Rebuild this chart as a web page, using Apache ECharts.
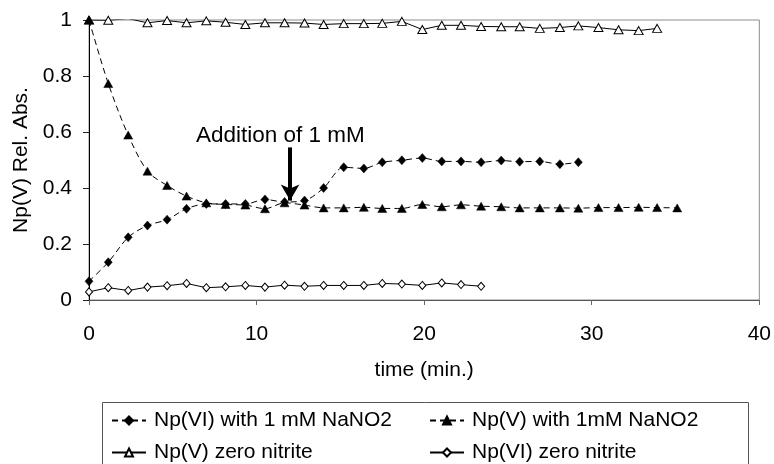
<!DOCTYPE html>
<html>
<head>
<meta charset="utf-8">
<script src="https://cdn.jsdelivr.net/npm/echarts@6/dist/echarts.min.js"></script>
<style>
html,body{margin:0;padding:0;background:#fff;}
#chart{width:774px;height:464px;}
</style>
</head>
<body>
<div id="chart"></div>
<script>
// sampling times (min.)
var time = [0, 1.15, 2.34, 3.49, 4.66, 5.82, 7.0, 8.15, 9.33, 10.5, 11.67, 12.86, 14.0, 15.2, 16.4, 17.5,
            18.67, 19.89, 21.05, 22.2, 23.4, 24.6, 25.7, 26.9, 28.1, 29.2, 30.4, 31.6, 32.8, 33.9, 35.1];

var names = ['Np(VI) with 1 mM NaNO2', 'Np(V) with 1mM NaNO2', 'Np(V) zero nitrite', 'Np(VI) zero nitrite'];

var npVIwithNitrite = [0.067, 0.135, 0.224, 0.266, 0.287, 0.326, 0.343, 0.343, 0.343, 0.359, 0.350, 0.355,
                       0.400, 0.474, 0.470, 0.492, 0.499, 0.507, 0.495, 0.495, 0.492, 0.498, 0.494, 0.495, 0.485, 0.492];
var npVwithNitrite = [1.0, 0.773, 0.589, 0.460, 0.409, 0.371, 0.347, 0.341, 0.339, 0.326, 0.347, 0.339, 0.329,
                      0.329, 0.331, 0.327, 0.327, 0.341, 0.333, 0.340, 0.335, 0.333, 0.329, 0.329, 0.329, 0.328,
                      0.330, 0.330, 0.331, 0.330, 0.329];
var npVzero = [1.0, 0.999, 1.005, 0.990, 0.998, 0.990, 0.997, 0.992, 0.984, 0.990, 0.990, 0.989, 0.984, 0.987,
               0.987, 0.988, 0.995, 0.966, 0.981, 0.981, 0.977, 0.976, 0.976, 0.970, 0.973, 0.979, 0.973,
               0.965, 0.962, 0.970];
var npVIzero = [0.029, 0.044, 0.034, 0.046, 0.051, 0.059, 0.044, 0.047, 0.052, 0.046, 0.053, 0.049, 0.052,
                0.052, 0.052, 0.059, 0.057, 0.052, 0.061, 0.055, 0.049];

var xTicks = [0, 10, 20, 30, 40];
var yTicks = [0, 0.2, 0.4, 0.6, 0.8, 1];

var annotationText = 'Addition of 1 mM';
var arrowFrom = [12, 0.545];
var arrowTo = [12, 0.355];

function pairs(vals) {
  return vals.map(function (v, i) { return [time[i], v]; });
}

var FONT = 'Liberation Sans, Arial, sans-serif';
var chart = echarts.init(document.getElementById('chart'), null, {renderer: 'canvas'});

var open = {color: '#fff', borderColor: '#000', borderWidth: 1};
var filled = {color: '#000', borderColor: '#000', borderWidth: 0.5};
var dashed = {color: '#000', width: 1, type: [6, 4]};
var solid = {color: '#000', width: 1};

chart.setOption({
  animation: false,
  backgroundColor: '#fff',
  textStyle: {fontFamily: FONT, color: '#000'},
  grid: {left: 89, right: 13, top: 20, bottom: 164, show: true, borderColor: '#8c8c8c', borderWidth: 1},
  xAxis: {
    type: 'value', min: xTicks[0], max: xTicks[xTicks.length - 1], interval: 10,
    name: 'time (min.)', nameLocation: 'middle', nameGap: 60,
    nameTextStyle: {fontSize: 21, fontFamily: FONT, color: '#000'},
    axisLine: {lineStyle: {color: '#555', width: 1}},
    axisTick: {show: true, inside: false, length: 5, lineStyle: {color: '#666'}},
    axisLabel: {fontSize: 21, fontFamily: FONT, color: '#000', margin: 24},
    splitLine: {show: false}
  },
  yAxis: {
    type: 'value', min: yTicks[0], max: yTicks[yTicks.length - 1], interval: 0.2,
    name: 'Np(V) Rel. Abs.', nameLocation: 'middle', nameGap: 51, nameRotate: 90,
    nameTextStyle: {fontSize: 21, fontFamily: FONT, color: '#000'},
    axisLine: {lineStyle: {color: '#000', width: 1}},
    axisTick: {show: true, inside: false, length: 6, lineStyle: {color: '#222'}},
    axisLabel: {fontSize: 21, fontFamily: FONT, color: '#000', margin: 17},
    splitLine: {show: false}
  },
  legend: [{
    data: [names[0], names[2]], orient: 'vertical', left: 111, top: 410, padding: 0,
    itemGap: 11, itemWidth: 34, itemHeight: 10,
    textStyle: {fontSize: 21, fontFamily: FONT, color: '#000', padding: [0, 0, 0, 3]}
  }, {
    data: [names[1], names[3]], orient: 'vertical', left: 429, top: 410, padding: 0,
    itemGap: 11, itemWidth: 34, itemHeight: 10,
    textStyle: {fontSize: 21, fontFamily: FONT, color: '#000', padding: [0, 0, 0, 3]}
  }],
  graphic: [{
    type: 'rect', left: 100, top: 400,
    shape: {width: 646, height: 63},
    style: {fill: 'none', stroke: '#555', lineWidth: 1}, z: -1
  }, {
    type: 'text', left: 196, top: 124,
    style: {text: annotationText, font: '22.5px ' + FONT, fill: '#000'}
  }],
  series: [{
    name: names[2], type: 'line', data: pairs(npVzero),
    symbol: 'triangle', symbolSize: [9, 8], itemStyle: open, lineStyle: solid, z: 2
  }, {
    name: names[3], type: 'line', data: pairs(npVIzero),
    symbol: 'diamond', symbolSize: [7, 8], itemStyle: open, lineStyle: solid, z: 2
  }, {
    name: names[0], type: 'line', data: pairs(npVIwithNitrite), smooth: 0.3,
    symbol: 'diamond', symbolSize: [8, 9], itemStyle: filled, lineStyle: dashed, z: 3
  }, {
    name: names[1], type: 'line', data: pairs(npVwithNitrite), smooth: 0.3,
    symbol: 'triangle', symbolSize: [9, 8], itemStyle: filled, lineStyle: dashed, z: 4,
    markLine: {
      silent: true, symbol: ['none', 'arrow'], symbolSize: [14, 16],
      label: {show: false},
      lineStyle: {color: '#000', width: 4, type: 'solid'},
      data: [[{coord: arrowFrom}, {coord: arrowTo}]]
    }
  }]
});
</script>
</body>
</html>
